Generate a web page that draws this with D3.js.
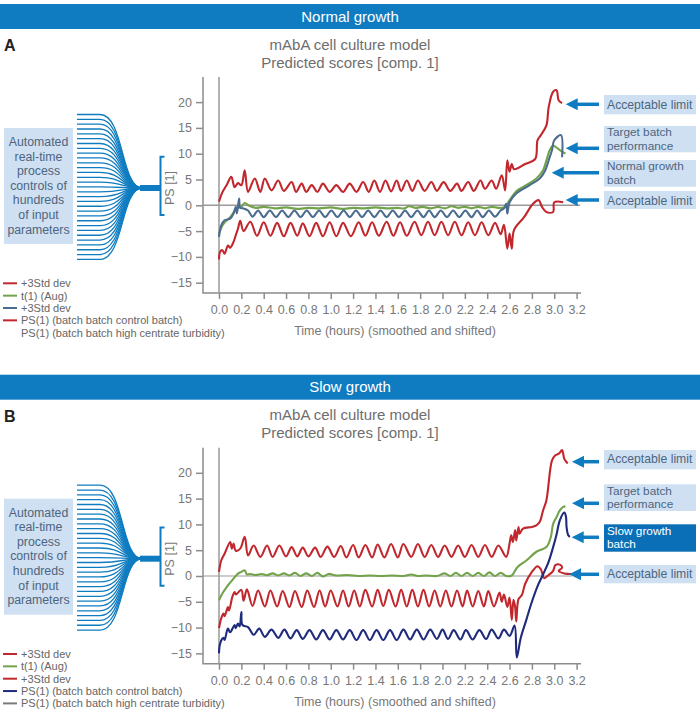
<!DOCTYPE html>
<html>
<head>
<meta charset="utf-8">
<script src="https://cdn.jsdelivr.net/npm/d3@7"></script>
<style>
  body { margin: 0; background: #fff; }
  svg { display: block; font-family: "Liberation Sans", Arial, sans-serif; }
</style>
</head>
<body>
<div id="chart_div"></div>
<script>
var width = 700, height = 712;

// tick labels
var xTicks = [0.0, 0.2, 0.4, 0.6, 0.8, 1.0, 1.2, 1.4, 1.6, 1.8, 2.0, 2.2, 2.4, 2.6, 2.8, 3.0, 3.2];
var yTicks = [-15, -10, -5, 0, 5, 10, 15, 20];

var legendLabels = ["+3Std dev", "t(1) (Aug)", "+3Std dev",
  "PS(1) (batch batch control batch)", "PS(1) (batch batch high centrate turbidity)"];

// Panel A (normal growth): [time, score]
var upperA = [[0,0.7],[0.03,2.5],[0.07,4.0],[0.11,5.5],[0.14,3.5],[0.17,4.3],[0.2,3.9],[0.23,6.8],[0.26,2.6],[0.32,5.2],[0.37,2.6],[0.41,5.2],[0.47,2.9],[0.53,4.8],[0.58,2.8],[0.65,4.5],[0.69,2.6],[0.74,4.2],[0.78,2.6],[0.83,3.9],[0.88,2.6],[0.93,4.2],[0.99,2.6],[1.05,3.9],[1.11,2.6],[1.17,4.2],[1.23,2.6],[1.29,4.5],[1.34,2.6],[1.39,4.8],[1.44,2.6],[1.49,4.8],[1.54,2.7],[1.59,4.8],[1.63,2.8],[1.68,4.8],[1.73,2.8],[1.78,4.8],[1.84,2.8],[1.9,4.5],[1.95,2.8],[2.01,4.5],[2.07,2.8],[2.13,4.2],[2.17,2.8],[2.23,4.5],[2.28,2.8],[2.34,4.8],[2.38,3.2],[2.44,4.8],[2.48,3.2],[2.53,5.8],[2.56,2.9],[2.58,8.7],[2.6,6.5],[2.62,8.0],[2.64,7.0],[2.74,8.0],[2.83,9.0],[2.85,12.6],[2.88,13.6],[2.93,15.5],[2.95,19.0],[2.99,22.0],[3.02,22.3],[3.04,20.3],[3.07,19.8]];
var lowerA = [[0,-10.5],[0.01,-9.0],[0.03,-8.7],[0.05,-9.4],[0.08,-7.8],[0.1,-8.2],[0.13,-7.1],[0.15,-5.8],[0.17,-4.5],[0.19,-3.0],[0.22,-5.0],[0.28,-3.2],[0.34,-5.9],[0.40,-3.3],[0.46,-5.9],[0.52,-3.4],[0.58,-6.0],[0.64,-3.4],[0.70,-5.9],[0.75,-3.5],[0.81,-6.0],[0.87,-3.4],[0.93,-6.0],[0.99,-3.3],[1.05,-6.0],[1.11,-3.4],[1.18,-6.0],[1.25,-3.3],[1.31,-5.9],[1.37,-3.3],[1.43,-5.9],[1.50,-3.2],[1.56,-5.9],[1.62,-3.3],[1.68,-5.9],[1.75,-3.2],[1.81,-5.8],[1.87,-3.2],[1.93,-5.8],[1.99,-3.2],[2.05,-5.8],[2.11,-3.2],[2.17,-5.8],[2.23,-3.3],[2.29,-5.8],[2.35,-3.3],[2.41,-5.8],[2.47,-3.4],[2.52,-5.6],[2.55,-3.8],[2.58,-8.4],[2.6,-5.5],[2.62,-8.4],[2.64,-4.8],[2.73,-2.3],[2.81,0.3],[2.86,1.0],[2.89,-0.3],[2.93,-1.3],[2.99,-1.3],[3.0,0.6],[3.08,0.6]];
var targetA = [[0,-5.5],[0.04,-3.6],[0.1,-2.3],[0.16,-0.6],[0.2,-0.3],[0.23,0.45],[0.27,-0.1],[0.33,-0.5],[0.4,-0.3],[0.5,-0.6],[0.6,-0.4],[0.7,-0.7],[0.8,-0.5],[0.9,-0.6],[1.0,-0.4],[1.1,-0.7],[1.2,-0.5],[1.3,-0.6],[1.4,-0.4],[1.5,-0.6],[1.6,-0.5],[1.66,-0.6],[1.7,-0.2],[1.76,-0.5],[1.82,-0.3],[1.9,-0.6],[1.96,-0.3],[2.02,-0.6],[2.08,-0.2],[2.14,-0.5],[2.2,-0.3],[2.26,-0.6],[2.32,-0.3],[2.38,-0.6],[2.44,-0.3],[2.5,-0.5],[2.56,-0.3],[2.6,1.0],[2.67,2.9],[2.75,3.9],[2.84,5.2],[2.9,6.8],[2.93,8.7],[2.96,10.7],[2.99,11.6],[3.02,11.2],[3.05,10.7],[3.1,10.0]];
var batchA = [[0,-6.1],[0.02,-3.9],[0.05,-2.9],[0.1,-2.6],[0.13,-1.6],[0.15,-0.3],[0.16,-1.6],[0.18,1.3],[0.19,-0.5],[0.22,-0.6],[0.26,-1.0],[0.30,-2.2],[0.35,-1.0],[0.40,-2.3],[0.455,-1.0],[0.51,-2.3],[0.565,-1.0],[0.62,-2.3],[0.675,-1.0],[0.73,-2.3],[0.785,-1.0],[0.84,-2.3],[0.895,-1.0],[0.95,-2.3],[1.005,-1.0],[1.06,-2.3],[1.115,-1.0],[1.17,-2.3],[1.225,-1.0],[1.28,-2.3],[1.335,-1.0],[1.39,-2.3],[1.445,-1.0],[1.50,-2.3],[1.555,-1.0],[1.61,-2.3],[1.665,-1.0],[1.72,-2.3],[1.775,-1.0],[1.83,-2.3],[1.88,-1.0],[1.93,-2.3],[1.985,-1.0],[2.04,-2.3],[2.095,-1.0],[2.15,-2.3],[2.205,-1.0],[2.26,-2.3],[2.31,-1.0],[2.36,-2.3],[2.415,-1.0],[2.47,-2.2],[2.52,-1.0],[2.55,-0.6],[2.57,0.3],[2.58,-1.6],[2.6,0.6],[2.66,2.3],[2.78,3.9],[2.87,5.2],[2.92,6.8],[2.95,8.7],[2.98,10.7],[3.0,12.6],[3.06,13.6],[3.07,9.3]];

// Panel B (slow growth)
var upperB = [[0,0.8],[0.02,3.0],[0.05,4.3],[0.1,6.6],[0.115,5.3],[0.13,6.3],[0.15,4.9],[0.19,5.3],[0.23,7.6],[0.26,4.0],[0.31,5.9],[0.37,3.7],[0.43,5.9],[0.48,3.7],[0.54,5.9],[0.6,3.8],[0.65,5.6],[0.7,3.8],[0.75,5.5],[0.8,3.8],[0.86,5.5],[0.91,3.7],[0.97,5.7],[1.03,3.7],[1.09,5.8],[1.14,3.6],[1.2,6.0],[1.25,3.6],[1.31,6.0],[1.37,3.6],[1.42,6.1],[1.48,3.6],[1.54,6.2],[1.6,3.6],[1.65,6.2],[1.72,3.7],[1.78,6.2],[1.84,3.7],[1.9,6.0],[1.96,3.7],[2.02,5.9],[2.08,3.7],[2.14,5.9],[2.2,3.7],[2.26,6.0],[2.32,3.7],[2.38,6.0],[2.44,3.7],[2.5,5.9],[2.57,3.7],[2.6,6.3],[2.615,7.9],[2.63,6.6],[2.65,8.9],[2.66,6.9],[2.68,9.5],[2.69,8.2],[2.72,9.2],[2.8,9.5],[2.84,9.8],[2.87,10.5],[2.9,12.7],[2.93,14.7],[2.98,22.4],[3.01,23.4],[3.04,23.7],[3.07,24.4],[3.08,23.7],[3.09,22.7],[3.12,21.8]];
var lowerB = [[0,-10.1],[0.02,-8.2],[0.04,-7.3],[0.05,-7.8],[0.08,-6.0],[0.09,-6.7],[0.12,-4.0],[0.14,-3.1],[0.15,-3.6],[0.2,-2.7],[0.22,-4.8],[0.25,-2.6],[0.3,-5.8],[0.35,-2.8],[0.41,-5.9],[0.46,-2.8],[0.52,-5.9],[0.57,-2.9],[0.63,-6.0],[0.68,-2.9],[0.74,-6.0],[0.79,-2.8],[0.85,-6.0],[0.9,-2.8],[0.95,-5.9],[1.0,-2.8],[1.06,-5.9],[1.11,-2.8],[1.16,-5.9],[1.21,-2.8],[1.26,-5.9],[1.31,-2.7],[1.37,-5.9],[1.42,-2.7],[1.47,-5.8],[1.52,-2.7],[1.58,-5.9],[1.63,-2.7],[1.68,-5.9],[1.73,-2.7],[1.78,-5.9],[1.83,-2.7],[1.88,-5.9],[1.93,-2.8],[1.98,-5.9],[2.03,-2.8],[2.08,-5.9],[2.13,-2.8],[2.18,-5.9],[2.22,-2.8],[2.27,-5.9],[2.32,-2.9],[2.37,-5.9],[2.41,-2.9],[2.46,-5.9],[2.51,-3.2],[2.53,-5.0],[2.55,-3.6],[2.58,-6.0],[2.6,-4.2],[2.62,-8.5],[2.635,-4.6],[2.65,-6.0],[2.66,-8.8],[2.68,-4.5],[2.71,-3.7],[2.74,-1.5],[2.8,0.8],[2.85,1.9],[2.88,1.3],[2.91,-0.4],[2.95,0.2],[2.99,1.0],[3.01,2.1],[3.05,2.2],[3.07,1.6],[3.04,1.0],[3.09,0.5],[3.15,0.4]];
var targetB = [[0,-4.7],[0.03,-3.4],[0.07,-2.1],[0.13,-0.5],[0.17,0.45],[0.2,0.8],[0.23,1.1],[0.25,0.3],[0.28,0.4],[0.33,0.2],[0.38,0.4],[0.43,0.15],[0.48,0.5],[0.53,0.1],[0.58,0.5],[0.63,0.1],[0.68,0.6],[0.73,0.0],[0.78,0.5],[0.83,0.0],[0.88,0.6],[0.93,-0.1],[0.98,0.4],[1.05,0.1],[1.15,0.2],[1.25,0.0],[1.35,0.1],[1.45,0.0],[1.55,0.1],[1.65,0.0],[1.72,0.3],[1.78,0.0],[1.85,0.1],[1.95,0.0],[2.02,0.5],[2.07,0.0],[2.12,0.6],[2.17,0.0],[2.22,0.6],[2.27,0.0],[2.32,0.6],[2.37,0.0],[2.42,0.7],[2.47,0.0],[2.52,0.6],[2.57,0.0],[2.62,0.1],[2.67,1.7],[2.75,3.0],[2.84,4.7],[2.93,5.6],[2.97,7.6],[2.99,10.1],[3.02,11.4],[3.05,12.7],[3.08,13.4],[3.1,13.5]];
var slowB = [[0,-15.0],[0.01,-13.1],[0.04,-12.0],[0.05,-12.4],[0.08,-10.2],[0.1,-10.9],[0.14,-9.5],[0.15,-10.1],[0.17,-9.2],[0.185,-9.8],[0.2,-7.0],[0.21,-9.5],[0.26,-9.9],[0.31,-11.4],[0.36,-10.2],[0.41,-11.8],[0.47,-10.4],[0.53,-12.0],[0.585,-10.4],[0.64,-12.1],[0.695,-10.5],[0.75,-12.2],[0.81,-10.5],[0.87,-12.3],[0.93,-10.5],[0.99,-12.3],[1.05,-10.5],[1.11,-12.3],[1.17,-10.5],[1.23,-12.4],[1.29,-10.5],[1.35,-12.4],[1.41,-10.5],[1.47,-12.4],[1.53,-10.5],[1.59,-12.4],[1.65,-10.4],[1.71,-12.3],[1.77,-10.4],[1.83,-12.3],[1.89,-10.4],[1.95,-12.2],[2.0,-10.4],[2.05,-12.2],[2.1,-10.5],[2.16,-12.3],[2.21,-10.5],[2.27,-12.3],[2.33,-10.5],[2.39,-12.2],[2.44,-10.4],[2.5,-12.1],[2.55,-10.4],[2.6,-11.6],[2.645,-9.6],[2.665,-15.8],[2.7,-12.0],[2.75,-8.5],[2.8,-5.0],[2.85,-2.0],[2.9,0.3],[2.95,2.8],[2.99,5.6],[3.02,8.0],[3.05,10.8],[3.09,12.3],[3.105,11.5],[3.11,9.5],[3.125,7.9],[3.14,7.6]];

var blue = "#0f7cc1", red = "#c1272d", green = "#72a34a", slate = "#4b6c8e",
  navy = "#1f2b7b", grey = "#8c8c8c", textGrey = "#6e6e6e", boxFill = "#cfe0f2", boxText = "#4d6580";

var svg = d3.select("#chart_div").append("svg")
  .attr("width", width).attr("height", height);

// x and y scales shared by both panels (panel is shifted with a transform)
var x = d3.scaleLinear().domain([0, 3.2]).range([219, 576.6]);
var y = d3.scaleLinear().domain([-17, 24.75]).range([293, 77.6]);

var line = d3.line()
  .x(function(d) { return x(d[0]); })
  .y(function(d) { return y(d[1]); })
  .curve(d3.curveCatmullRom.alpha(0.5));

function arrow(g, tipX, yy, tailX) {
  g.append("line").attr("x1", tipX + 8).attr("x2", tailX)
    .attr("y1", yy).attr("y2", yy)
    .attr("stroke", blue).attr("stroke-width", 3.5);
  g.append("path")
    .attr("d", "M" + tipX + "," + yy + "L" + (tipX + 12) + "," + (yy - 6) + "L" + (tipX + 12) + "," + (yy + 6) + "Z")
    .attr("fill", blue);
}

function note(g, lines, top, h, yy, tipX, dark) {
  g.append("rect").attr("x", 604).attr("y", top).attr("width", 92).attr("height", h)
    .attr("fill", dark ? "#0a6fb6" : boxFill);
  lines.forEach(function(t, i) {
    g.append("text").attr("x", 607).attr("y", top + (lines.length == 1 ? 13.5 : 10.4 + i * 13.3))
      .attr("font-size", lines.length == 1 ? "12.2px" : "11.8px")
      .attr("fill", dark ? "#fff" : boxText).text(t);
  });
  arrow(g, tipX, yy, 599);
}

function drawPanel(oy, cfg) {
  var g = svg.append("g").attr("transform", "translate(0," + oy + ")");

  // header bar
  g.append("rect").attr("x", 0).attr("y", 4).attr("width", width).attr("height", 25).attr("fill", blue);
  g.append("text").attr("x", 350).attr("y", 21.5).attr("text-anchor", "middle")
    .attr("font-size", "15px").attr("fill", "#fff").text(cfg.header);
  g.append("text").attr("x", 4).attr("y", 51).attr("font-size", "16px").attr("font-weight", "bold")
    .attr("fill", "#222").text(cfg.letter);

  g.append("text").attr("x", 350).attr("y", 49.5).attr("text-anchor", "middle")
    .attr("font-size", "15px").attr("fill", textGrey).text("mAbA cell culture model");
  g.append("text").attr("x", 350).attr("y", 67.5).attr("text-anchor", "middle")
    .attr("font-size", "15px").attr("fill", textGrey).text("Predicted scores [comp. 1]");

  // axes
  var yAxis = g.append("g").attr("transform", "translate(203,0)")
    .call(d3.axisLeft(y).tickValues(yTicks).tickSize(7).tickPadding(4));
  var xAxis = g.append("g").attr("transform", "translate(0,293)")
    .call(d3.axisBottom(x).tickValues(xTicks).tickSize(6).tickPadding(6).tickFormat(d3.format(".1f")));
  [yAxis, xAxis].forEach(function(a) {
    a.select(".domain").remove();
    a.selectAll(".tick line").attr("stroke", grey).attr("stroke-width", 1.5);
    a.selectAll(".tick text").attr("fill", "#777").attr("font-size", "12.5px")
      .attr("font-family", "Liberation Sans, Arial, sans-serif");
  });
  g.append("path").attr("d", "M203,77V293H581").attr("fill", "none")
    .attr("stroke", grey).attr("stroke-width", 1.5);
  g.append("line").attr("x1", x(0)).attr("x2", x(0)).attr("y1", 77).attr("y2", 293)
    .attr("stroke", "#999").attr("stroke-width", 1.5);
  g.append("line").attr("x1", 203).attr("x2", cfg.zeroEnd).attr("y1", y(0)).attr("y2", y(0))
    .attr("stroke", "#999").attr("stroke-width", cfg.zeroWidth);

  g.append("text").attr("x", 395).attr("y", 335).attr("text-anchor", "middle")
    .attr("font-size", "12.5px").attr("fill", "#777").text("Time (hours) (smoothed and shifted)");
  g.append("text").attr("transform", "translate(173.5,188) rotate(-90)").attr("text-anchor", "middle")
    .attr("font-size", "12.5px").attr("fill", "#777").text("PS [1]");

  // series
  cfg.series.forEach(function(s) {
    g.append("path").datum(s.data).attr("d", line).attr("fill", "none")
      .attr("stroke", s.color).attr("stroke-width", 2.1).attr("stroke-linejoin", "round");
  });

  // left fan of input parameters
  g.append("rect").attr("x", 4).attr("y", 128).attr("width", 69).attr("height", 116).attr("fill", boxFill);
  ["Automated", "real-time", "process", "controls of", "hundreds", "of input", "parameters"].forEach(function(t, i) {
    g.append("text").attr("x", 38.5).attr("y", 146 + i * 14.6).attr("text-anchor", "middle")
      .attr("font-size", "12.3px").attr("fill", boxText).text(t);
  });
  var hub = 188;
  d3.range(31).forEach(function(i) {
    var yi = 114.5 + i * 4.83;
    g.append("path").attr("d", "M77," + yi + "L100," + yi + "C124," + yi + " 121," + hub + " 142," + hub)
      .attr("fill", "none").attr("stroke", blue).attr("stroke-width", 1.3);
  });
  g.append("rect").attr("x", 140).attr("y", hub - 3).attr("width", 21).attr("height", 6).attr("fill", blue);
  g.append("path").attr("d", "M164.5,156.7H160.5V215H164.5").attr("fill", "none")
    .attr("stroke", blue).attr("stroke-width", 2);

  // legend
  legendLabels.forEach(function(t, i) {
    var by = 287.3 + i * 12.35;
    if (cfg.legendColors[i]) {
      g.append("line").attr("x1", 3).attr("x2", 17).attr("y1", by - 4).attr("y2", by - 4)
        .attr("stroke", cfg.legendColors[i]).attr("stroke-width", 2);
    }
    g.append("text").attr("x", 21).attr("y", by).attr("font-size", "11px").attr("fill", "#666").text(t);
  });

  cfg.notes(g);
}

drawPanel(0, {
  header: "Normal growth", letter: "A", zeroEnd: 580, zeroWidth: 1.5,
  series: [
    { data: upperA, color: red }, { data: lowerA, color: red },
    { data: targetA, color: green }, { data: batchA, color: slate }
  ],
  legendColors: [red, green, slate, red, null],
  notes: function(g) {
    note(g, ["Acceptable limit"], 95, 19.3, 104.3, 565.7);
    note(g, ["Target batch", "performance"], 126, 26.3, 148.3, 565.7);
    note(g, ["Normal growth", "batch"], 160, 26.7, 172.7, 551.7);
    note(g, ["Acceptable limit"], 191, 18, 200, 565.7);
  }
});

drawPanel(370.7, {
  header: "Slow growth", letter: "B", zeroEnd: 572, zeroWidth: 1.2,
  series: [
    { data: upperB, color: red }, { data: lowerB, color: red },
    { data: targetB, color: green }, { data: slowB, color: navy }
  ],
  legendColors: [red, green, red, navy, "#7a7a7a"],
  notes: function(g) {
    note(g, ["Acceptable limit"], 79.3, 19.3, 91, 572);
    note(g, ["Target batch", "performance"], 113.6, 26.7, 132.6, 572);
    note(g, ["Slow growth", "batch"], 153.6, 27.4, 166.6, 571.7, true);
    note(g, ["Acceptable limit"], 194.3, 18.3, 203.6, 569);
  }
});
</script>
</body>
</html>
